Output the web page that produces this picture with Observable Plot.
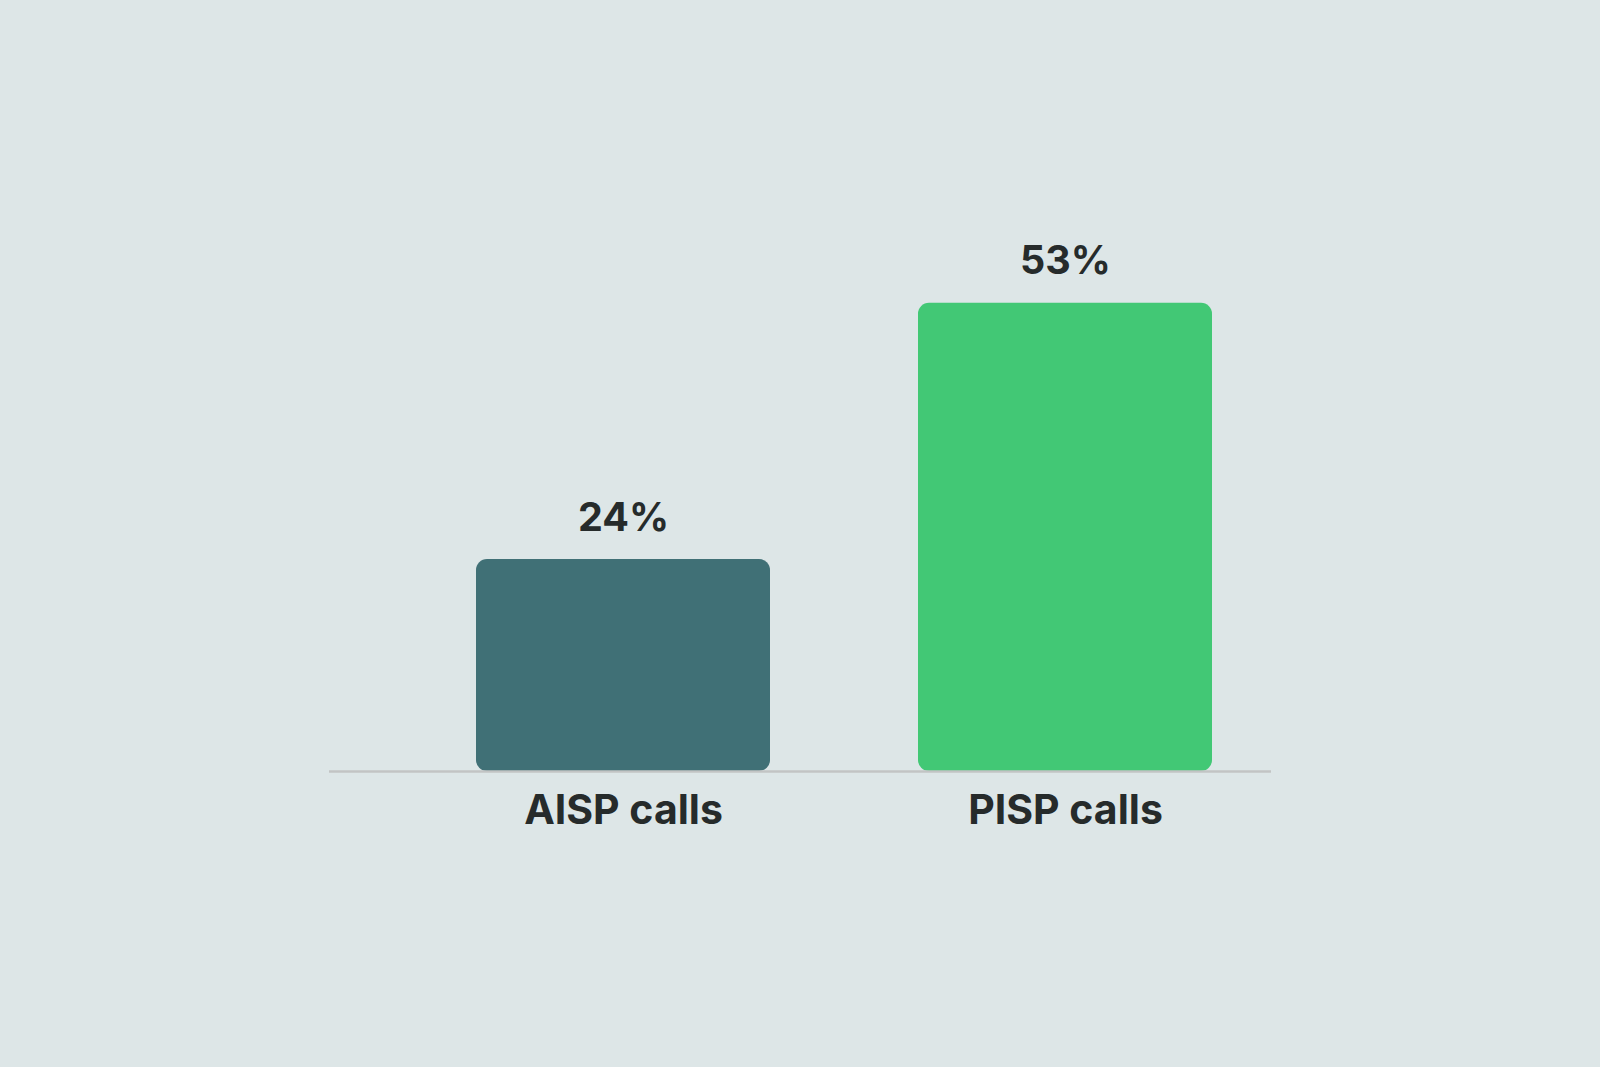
<!DOCTYPE html>
<html>
<head>
<meta charset="utf-8">
<script src="https://cdn.jsdelivr.net/npm/d3@7"></script>
<script src="https://cdn.jsdelivr.net/npm/@observablehq/plot@0.6"></script>
<style>
  html, body { margin: 0; padding: 0; background: #dde6e7; }
  #chart { width: 1600px; height: 1067px; }
</style>
</head>
<body>
<div id="chart"></div>
<script>
const categories = ["AISP calls", "PISP calls"];
const values = [24, 53];
const colors = ["#407076", "#42c875"];

const data = categories.map((c, i) => ({category: c, value: values[i]}));

const chart = Plot.plot({
  width: 1600,
  height: 1067,
  marginLeft: 329,
  marginRight: 329,
  marginTop: 241,
  marginBottom: 296,
  style: {background: "#dde6e7", fontFamily: "Inter, sans-serif", fontWeight: 700, color: "#262b2b"},
  x: {domain: categories, paddingInner: 0.335, paddingOuter: 0.233, align: 0.714, label: null},
  y: {domain: [0, 60], axis: null},
  color: {domain: categories, range: colors},
  marks: [
    Plot.barY(data, {x: "category", y: "value", fill: "category", rx: 11}),
    Plot.ruleY([0], {stroke: "#c2c4c4", strokeWidth: 2.5}),
    Plot.text(data, {x: "category", y: "value", text: d => d.value + "%", lineAnchor: "bottom", dy: -29, fontSize: 39.5, fontWeight: 700, fill: "#262b2b"}),
    Plot.axisX({tickSize: 0, tickPadding: 23, fontSize: 41, fontWeight: 700, label: null})
  ]
});
document.getElementById("chart").appendChild(chart);
</script>
</body>
</html>
